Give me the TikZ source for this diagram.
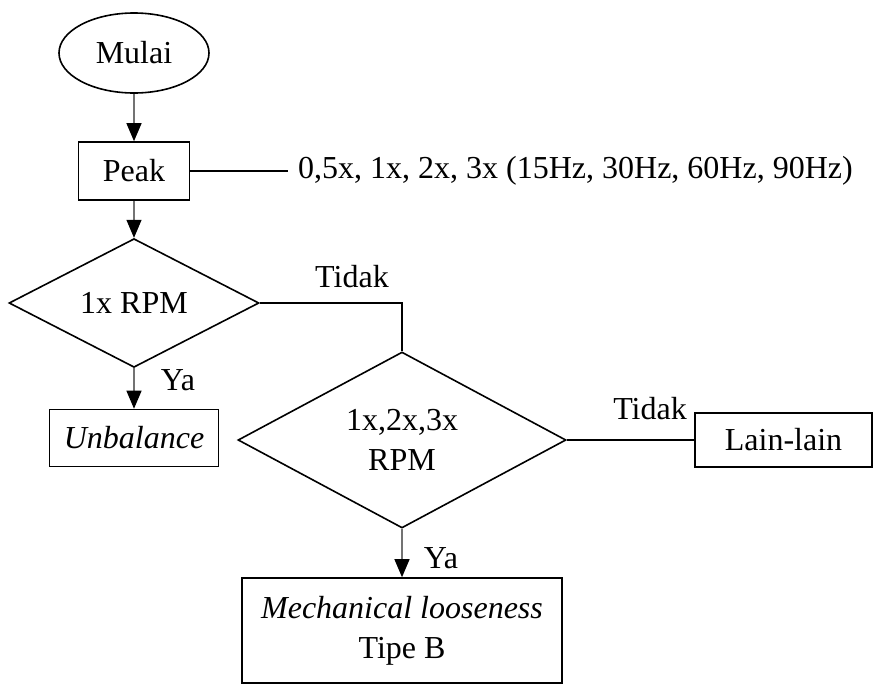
\documentclass[tikz,border=0pt]{standalone}
\usepackage{fontspec}
\setmainfont{Liberation Serif}
\usetikzlibrary{shapes.geometric,arrows.meta}
\begin{document}
\begin{tikzpicture}[x=1pt,y=-1pt,
  font=\fontsize{32}{40}\selectfont,
  box/.style={draw,line width=1.6pt,inner sep=0pt,align=center},
  dec/.style={draw,diamond,line width=1.6pt,inner sep=0pt,align=center},
  arr/.style={draw=black!55,line width=1.2pt,-{Triangle[length=18pt,width=15pt,color=black]}},
  ln/.style={draw,line width=1.2pt},
  lbl/.style={inner sep=0pt}]
\useasboundingbox (0,0) rectangle (875,691);
\node[box,ellipse,minimum width=150pt,minimum height=80pt] (mulai) at (134,53) {Mulai};
\node[box,minimum width=111pt,minimum height=58pt] (peak) at (134,171) {Peak};
\coordinate (pk) at (288,171);
\node[lbl,anchor=west] (freq) at (298,171) {0,5x, 1x, 2x, 3x (15Hz, 30Hz, 60Hz, 90Hz)};
\node[dec,minimum width=250pt,minimum height=113pt] (d1) at (134,303) {1x RPM};
\node[box,minimum width=169pt,minimum height=57pt] (unb) at (134,438) {\itshape Unbalance};
\node[dec,minimum width=328pt,minimum height=176pt] (d2) at (402,440) {1x,2x,3x\\RPM};
\node[box,minimum width=177pt,minimum height=54pt] (lain) at (783.5,440) {Lain-lain};
\node[box,minimum width=320pt,minimum height=105pt] (mech) at (402,630.5) {\itshape Mechanical looseness\\Tipe B};
\node[lbl] (t1) at (352,277) {Tidak};
\node[lbl] (y1) at (178,380) {Ya};
\node[lbl] (t2) at (650,409) {Tidak};
\node[lbl] (y2) at (441,558) {Ya};
\draw[arr] (mulai) -- (peak);
\draw[ln] (peak.east) -- (pk);
\draw[arr] (peak) -- (d1);
\draw[arr] (d1) -- (unb);
\draw[ln] (d1.east) -| (d2.north);
\draw[ln] (d2.east) -- (lain.west);
\draw[arr] (d2) -- (mech);
\end{tikzpicture}
\end{document}
